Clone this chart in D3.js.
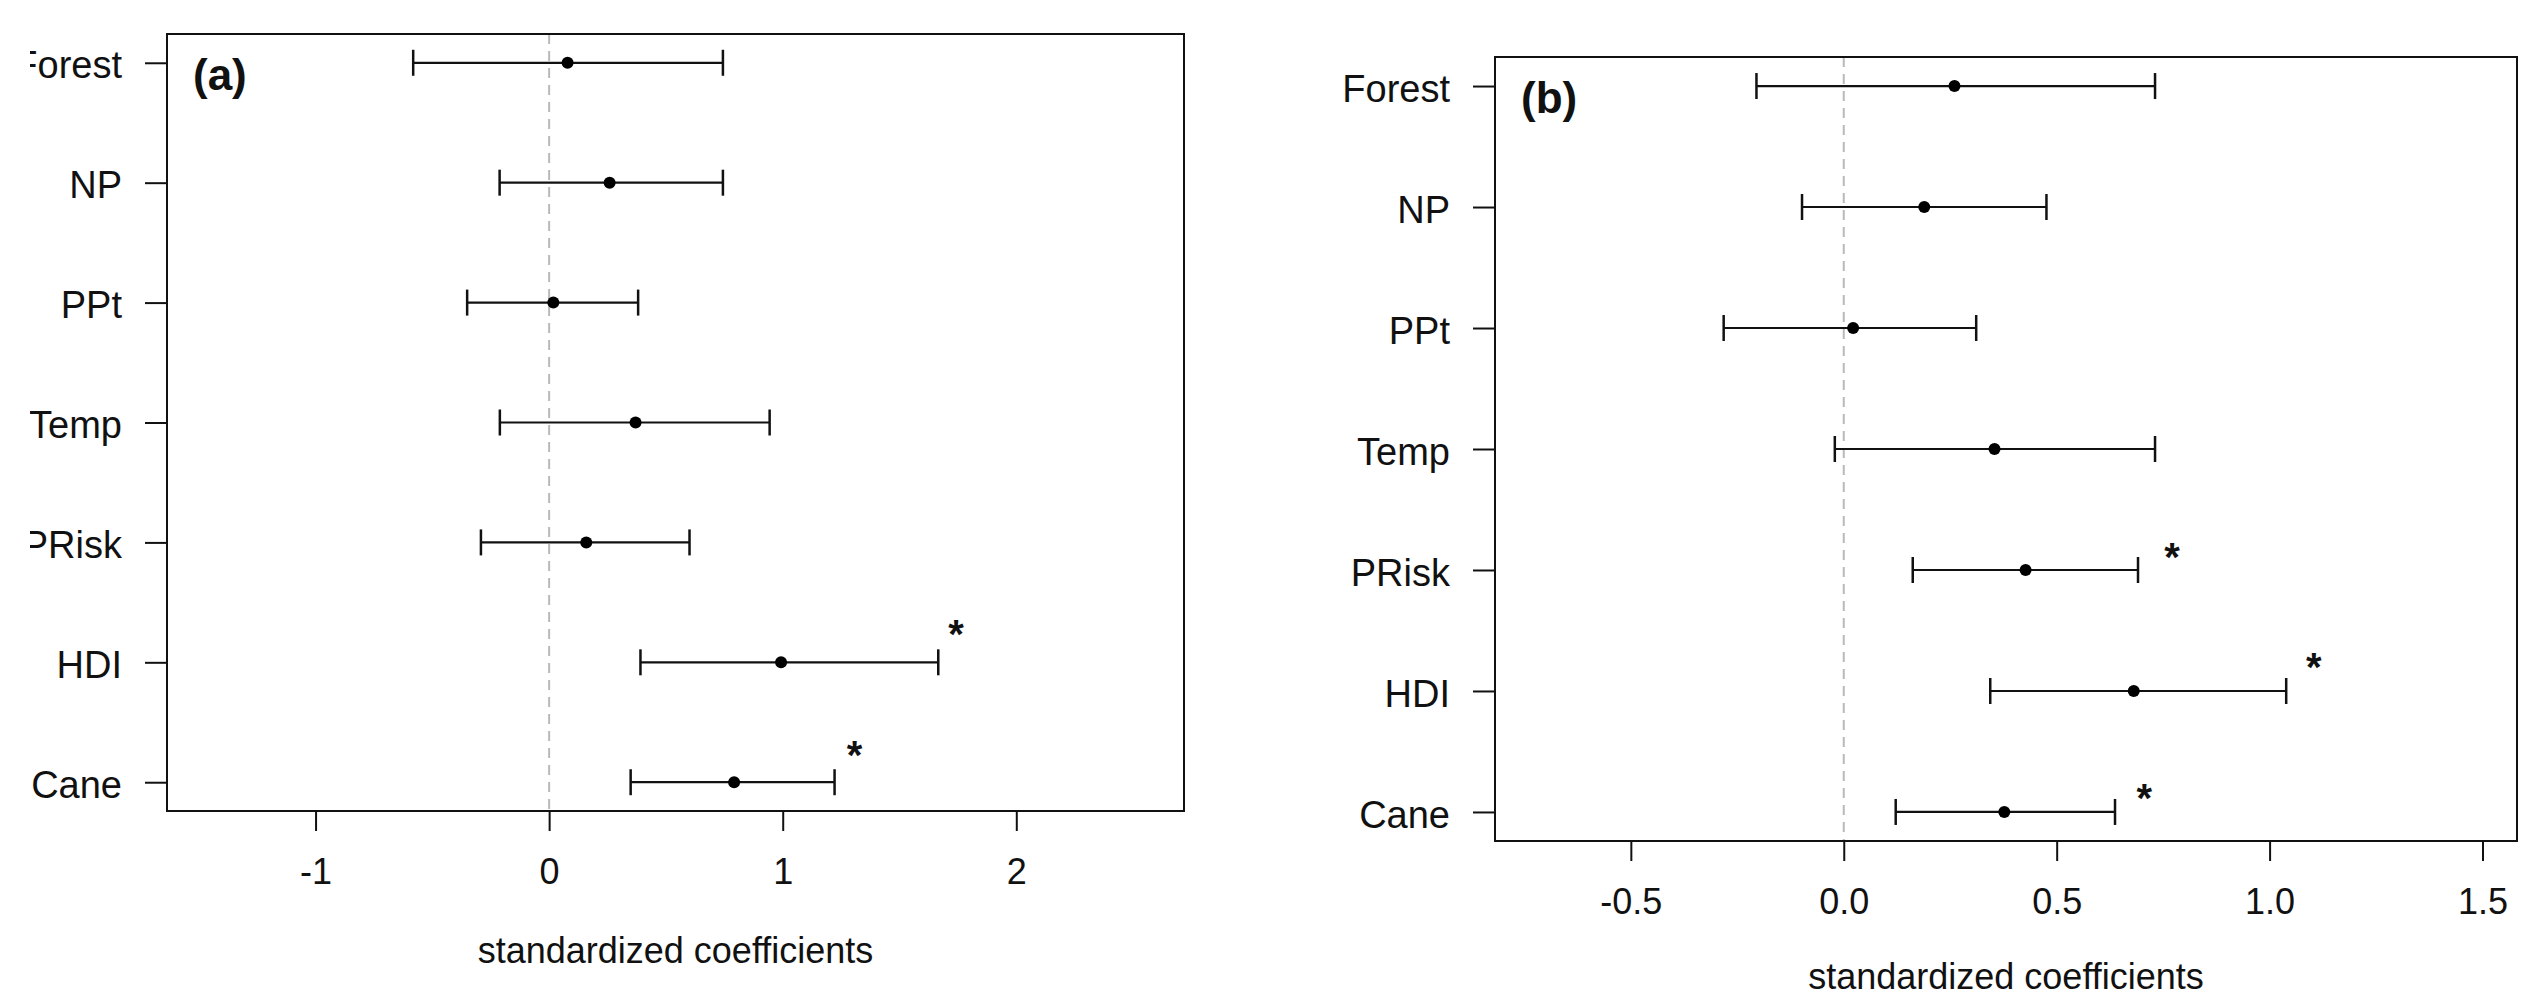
<!DOCTYPE html>
<html>
<head>
<meta charset="utf-8">
<script src="https://cdn.jsdelivr.net/npm/d3@7"></script>
<style>
  body { margin: 0; background: #fff; }
  text { font-family: "Liberation Sans", Arial, sans-serif; fill: #111; }
</style>
</head>
<body>
<div id="chart"></div>
<script>
// predictors, top to bottom
var vars = ["Forest", "NP", "PPt", "Temp", "PRisk", "HDI", "Cane"];

// panel (a)
var estA = [0.079, 0.259, 0.018, 0.370, 0.159, 0.993, 0.792];
var loA  = [-0.582, -0.212, -0.351, -0.211, -0.292, 0.391, 0.349];
var hiA  = [0.744, 0.744, 0.381, 0.944, 0.601, 1.666, 1.222];
var starXA = [null, null, null, null, null, 1.742, 1.308];
var starLiftA = [0, 0, 0, 0, 0, 0.31, 0.30];
var ticksA = [-1, 0, 1, 2];

// panel (b)
var estB = [0.260, 0.189, 0.022, 0.354, 0.427, 0.681, 0.377];
var loB  = [-0.205, -0.098, -0.282, -0.021, 0.162, 0.344, 0.122];
var hiB  = [0.731, 0.476, 0.311, 0.731, 0.691, 1.039, 0.637];
var starXB = [null, null, null, null, 0.771, 1.104, 0.706];
var starLiftB = [0, 0, 0, 0, 0.185, 0.27, 0.19];
var ticksB = [-0.5, 0.0, 0.5, 1.0, 1.5];

var xTitle = "standardized coefficients";

var svg = d3.select("#chart")
            .append("svg")
            .attr("width", 2524)
            .attr("height", 999);

// the left edge of panel (a) is cut in the original
svg.append("clipPath")
   .attr("id", "cutA")
   .append("rect")
   .attr("x", 30).attr("y", 0)
   .attr("width", 2494).attr("height", 999);

drawPanel({
    tag: "(a)", est: estA, lo: loA, hi: hiA, starX: starXA, starLift: starLiftA,
    ticks: ticksA, fmt: "d",
    xdom: [-1.636, 2.718], left: 167, right: 1184, top: 34, bottom: 811,
    clip: "url(#cutA)"
});

drawPanel({
    tag: "(b)", est: estB, lo: loB, hi: hiB, starX: starXB, starLift: starLiftB,
    ticks: ticksB, fmt: ".1f",
    xdom: [-0.819, 1.581], left: 1495, right: 2517, top: 57, bottom: 841,
    clip: null
});

function drawPanel(p) {
    var g = svg.append("g");
    if (p.clip) { g.attr("clip-path", p.clip); }

    var x = d3.scaleLinear().domain(p.xdom).range([p.left, p.right]);
    var y = d3.scaleLinear().domain([0.76, 7.24]).range([p.bottom, p.top]);
    var n = vars.length;
    var row = function(i) { return y(n - i); };
    var f = d3.format(p.fmt);

    // zero reference line
    g.append("line")
     .attr("x1", x(0)).attr("x2", x(0))
     .attr("y1", p.top).attr("y2", p.bottom)
     .attr("stroke", "#b9b9b9")
     .attr("stroke-width", 2)
     .attr("stroke-dasharray", "10,7");

    // x axis
    var xa = g.append("g")
              .attr("transform", "translate(0," + p.bottom + ")")
              .call(d3.axisBottom(x).tickValues(p.ticks)
                      .tickFormat(function(d) { return f(d).replace("\u2212", "-"); })
                      .tickSize(20).tickSizeOuter(0).tickPadding(27));
    // y axis
    var ya = g.append("g")
              .attr("transform", "translate(" + p.left + ",0)")
              .call(d3.axisLeft(y).tickValues(d3.range(1, n + 1))
                      .tickFormat(function(k) { return vars[n - k]; })
                      .tickSize(22).tickSizeOuter(0).tickPadding(23));
    [xa, ya].forEach(function(a) {
        a.select(".domain").remove();
        a.attr("font-family", null).attr("font-size", null);
        a.selectAll("line").attr("stroke", "#111").attr("stroke-width", 2);
    });
    xa.selectAll("text").style("font-size", "36px");
    ya.selectAll("text").style("font-size", "38px").attr("dy", "0.4em");

    // box
    g.append("rect")
     .attr("x", p.left).attr("y", p.top)
     .attr("width", p.right - p.left).attr("height", p.bottom - p.top)
     .attr("fill", "none")
     .attr("stroke", "#111")
     .attr("stroke-width", 2);

    // error bars
    var bars = g.selectAll("g.bar")
                .data(vars)
                .enter()
                .append("g")
                .attr("class", "bar");

    bars.append("line")
        .attr("x1", function(d, i) { return x(p.lo[i]); })
        .attr("x2", function(d, i) { return x(p.hi[i]); })
        .attr("y1", function(d, i) { return row(i); })
        .attr("y2", function(d, i) { return row(i); })
        .attr("stroke", "#111").attr("stroke-width", 2.2);

    [p.lo, p.hi].forEach(function(end) {
        bars.append("line")
            .attr("x1", function(d, i) { return x(end[i]); })
            .attr("x2", function(d, i) { return x(end[i]); })
            .attr("y1", function(d, i) { return row(i) - 13; })
            .attr("y2", function(d, i) { return row(i) + 13; })
            .attr("stroke", "#111").attr("stroke-width", 2.5);
    });

    bars.append("circle")
        .attr("cx", function(d, i) { return x(p.est[i]); })
        .attr("cy", function(d, i) { return row(i); })
        .attr("r", 6)
        .attr("fill", "#000");

    // significance stars
    g.selectAll("text.star")
     .data(vars.filter(function(d, i) { return p.starX[i] !== null; }))
     .enter()
     .append("text")
     .attr("class", "star")
     .attr("x", function(d) { var i = vars.indexOf(d); return x(p.starX[i]); })
     .attr("y", function(d) { var i = vars.indexOf(d); return y(n - i + p.starLift[i]) + 23; })
     .attr("text-anchor", "middle")
     .style("font-size", "40px")
     .style("font-weight", "bold")
     .text("*");

    // panel tag
    g.append("text")
     .attr("x", p.left + 26)
     .attr("y", p.top + 56)
     .style("font-size", "44px")
     .style("font-weight", "bold")
     .text(p.tag);

    // x title
    g.append("text")
     .attr("x", (p.left + p.right) / 2)
     .attr("y", Math.min(p.bottom + 152, 989))
     .attr("text-anchor", "middle")
     .style("font-size", "36px")
     .text(xTitle);
}
</script>
</body>
</html>
